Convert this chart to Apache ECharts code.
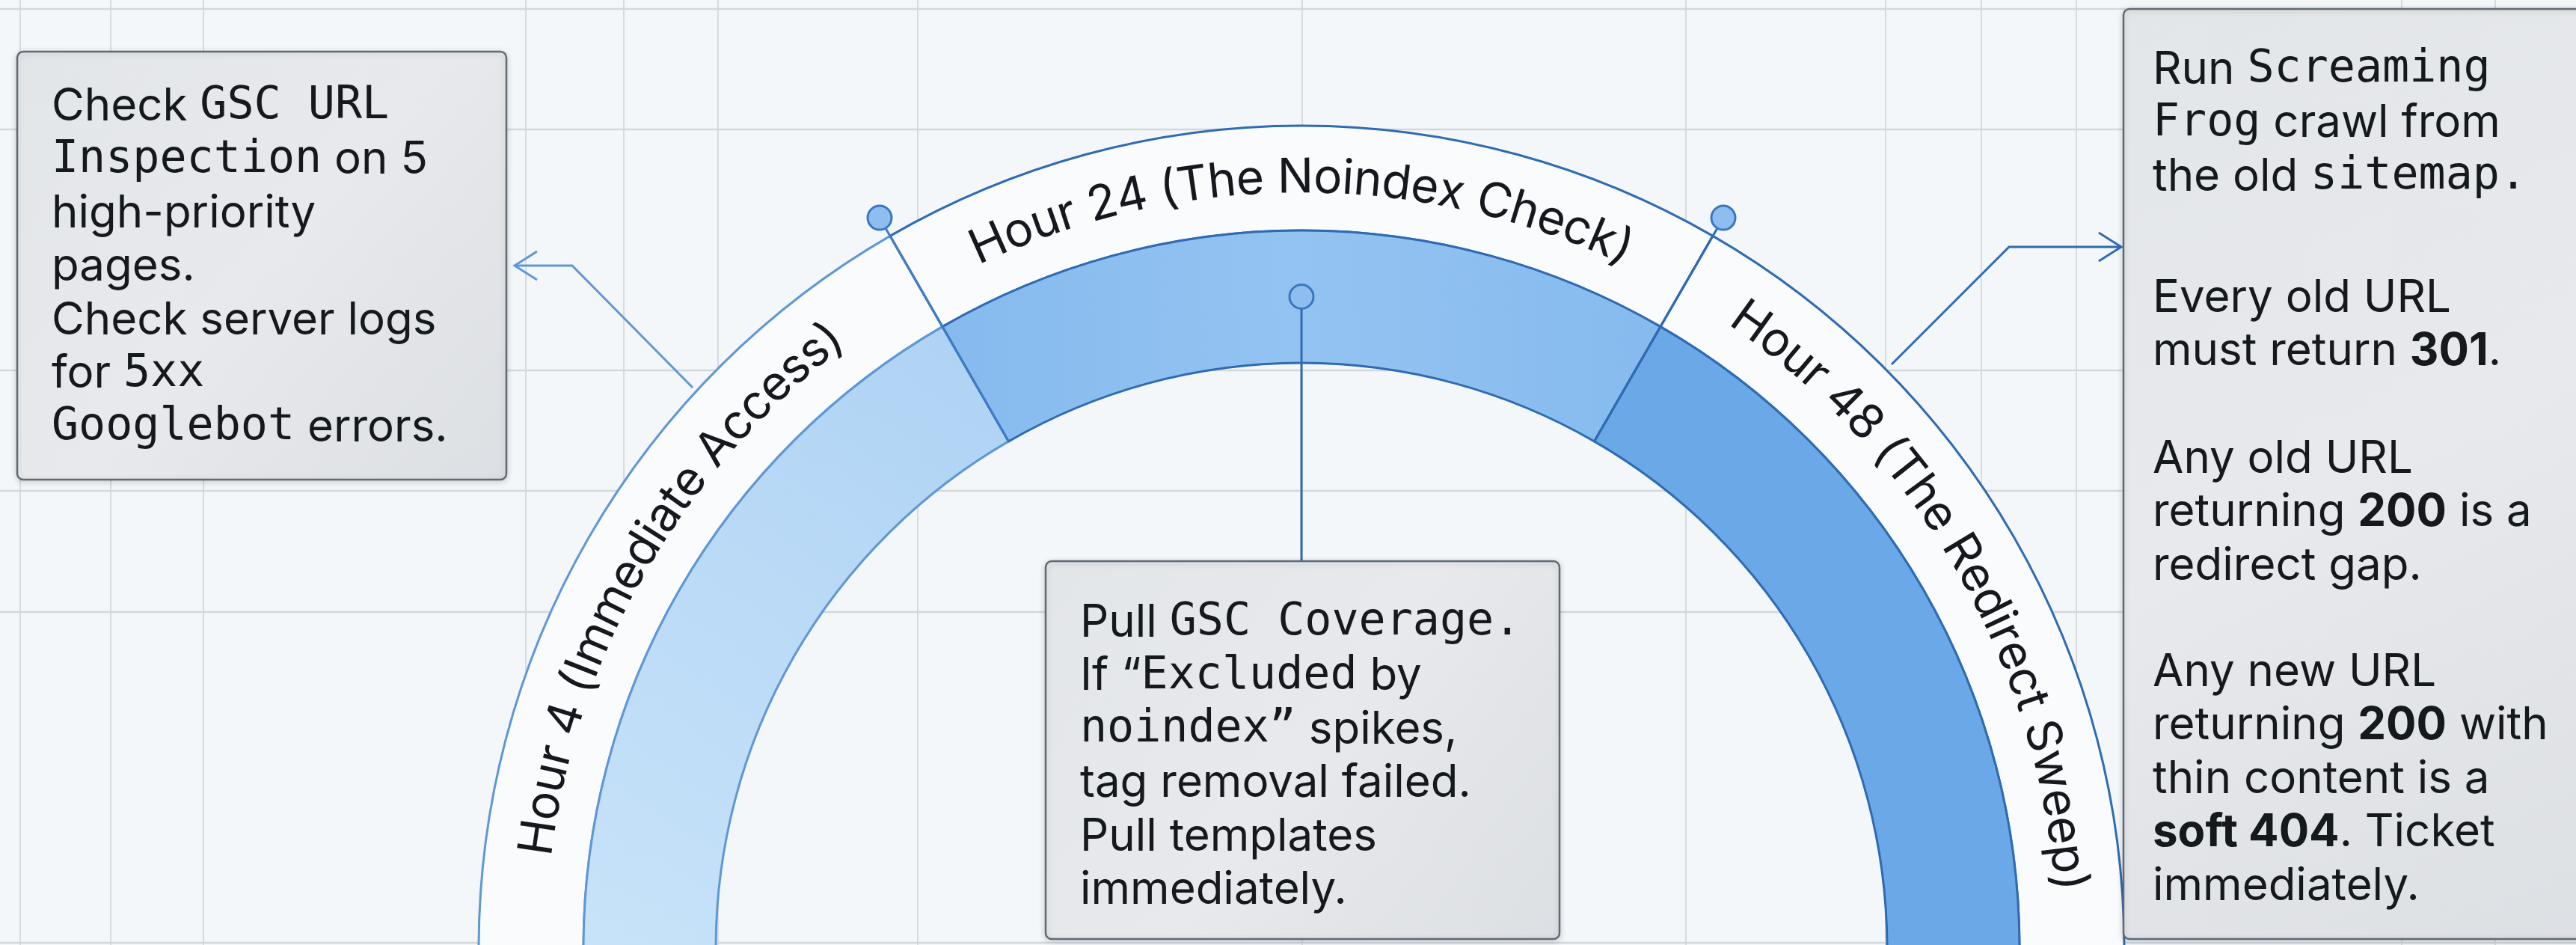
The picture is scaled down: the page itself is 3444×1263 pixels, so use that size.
<!DOCTYPE html>
<html>
<head>
<meta charset="utf-8">
<script src="https://cdn.jsdelivr.net/npm/echarts@6/dist/echarts.min.js"></script>
<style>
html,body{margin:0;padding:0;background:#f4f7f9;}
#chart{width:3444px;height:1263px;}
</style>
</head>
<body>
<div id="chart"></div>
<script>
// phases of the 48h window, each takes an equal third of the arc
var phaseNames = ['Hour 4 (Immediate Access)', 'Hour 24 (The Noindex Check)', 'Hour 48 (The Redirect Sweep)'];
var phaseShare = [1, 1, 1];

// callout notes, one rich-text line per entry ({s|} sans, {m|} mono, {b|} bold)
var noteHour4 = [
    '{s|Check }{m|GSC URL}',
    '{m|Inspection}{s| on 5}',
    '{s|high-priority}',
    '{s|pages.}',
    '{s|Check server logs}',
    '{s|for }{m|5xx}',
    '{m|Googlebot}{s| errors.}'
];
var noteHour24 = [
    '{s|Pull }{m|GSC Coverage.}',
    '{s|If \u201C}{m|Excluded}{s| by}',
    '{m|noindex\u201D}{s| spikes,}',
    '{s|tag removal failed.}',
    '{s|Pull templates}',
    '{s|immediately.}'
];
var noteHour48 = [
    ['{s|Run }{m|Screaming}', '{m|Frog}{s| crawl from}', '{s|the old }{m|sitemap.}'],
    ['{s|Every old URL}', '{s|must return }{b|301}{s|.}'],
    ['{s|Any old URL}', '{s|returning }{b|200}{s| is a}', '{s|redirect gap.}'],
    ['{s|Any new URL}', '{s|returning }{b|200}{s| with}', '{s|thin content is a}', '{b|soft 404}{s|. Ticket}', '{s|immediately.}']
];

// layout ------------------------------------------------------------------
var cx = 1740, cy = 1268;
var rBandIn = 783, rBandOut = 960, rRingOut = 1100;
var gridX = [27, 148, 272, 703, 834, 960, 1227, 1741, 2254, 2521, 2649, 2776, 3211, 3336];
var gridY = [12, 173, 495, 656, 818, 1260];

var sansFont = 'Inter';
var monoFont = 'DejaVu Sans Mono';
var inkColor = '#15191e';
var lineBlue = '#2f6bb2';
var lightLineBlue = '#5f97d6';

var bandColors = [
    {type: 'linear', x: 0, y: 1, x2: 1, y2: 0, colorStops: [{offset: 0, color: '#c8e3f9'}, {offset: 1, color: '#aed2f4'}]},
    {type: 'linear', x: 0, y: 0, x2: 1, y2: 0, colorStops: [{offset: 0, color: '#86baee'}, {offset: 0.5, color: '#93c3f1'}, {offset: 1, color: '#86baee'}]},
    '#6aa8e8'
];
var bandBorders = [lightLineBlue, lineBlue, lineBlue];

function polar(deg, r) { // deg measured clockwise from 12 o'clock
    var a = deg * Math.PI / 180;
    return [cx + r * Math.sin(a), cy - r * Math.cos(a)];
}

// angle boundaries from the shares
var total = phaseShare.reduce(function (a, b) { return a + b; }, 0);
var bounds = [];
var mids = [];
var cum = 0;
for (var i = 0; i < phaseShare.length; i++) {
    mids.push(-90 + 180 * (cum + phaseShare[i] / 2) / total);
    cum += phaseShare[i];
    if (i < phaseShare.length - 1) bounds.push(-90 + 180 * cum / total);
}

var measureCtx = document.createElement('canvas').getContext('2d');

function arcText(str, midDeg, r, size) {
    var font = '400 ' + size + 'px ' + sansFont;
    measureCtx.font = font;
    var chars = str.split('');
    var widths = chars.map(function (ch) { return measureCtx.measureText(ch).width; });
    var sum = widths.reduce(function (a, b) { return a + b; }, 0);
    var acc = -sum / 2;
    var out = [];
    chars.forEach(function (ch, k) {
        var s = acc + widths[k] / 2;
        acc += widths[k];
        var deg = midDeg + (s / r) * 180 / Math.PI;
        var p = polar(deg, r);
        out.push({
            type: 'text', z: 20, silent: true,
            x: p[0], y: p[1],
            rotation: -deg * Math.PI / 180,
            style: {text: ch, font: font, fill: inkColor, align: 'center', verticalAlign: 'middle'}
        });
    });
    return out;
}

var richStyles = {
    s: {fontFamily: sansFont, fontSize: 60, fill: inkColor, color: inkColor, lineHeight: 71.5},
    m: {fontFamily: monoFont, fontSize: 60, fill: inkColor, color: inkColor, lineHeight: 71.5},
    b: {fontFamily: sansFont, fontSize: 60, fontWeight: 'bold', fill: inkColor, color: inkColor, lineHeight: 71.5}
};

function noteText(lines, x, y) {
    return {
        type: 'text', z: 30, silent: true, x: x, y: y,
        style: {text: lines.join('\n'), rich: richStyles, font: '60px ' + sansFont, fill: inkColor,
            align: 'left', verticalAlign: 'top', lineHeight: 71.5}
    };
}

function noteBox(x, y, w, h) {
    return {
        type: 'rect', z: 25, silent: true,
        shape: {x: x, y: y, width: w, height: h, r: 8},
        style: {
            fill: {type: 'linear', x: 0, y: 0, x2: 1, y2: 1, colorStops: [{offset: 0, color: '#e3e6e9'}, {offset: 0.5, color: '#e7e9ec'}, {offset: 1, color: '#dcdfe3'}]},
            stroke: '#5f6a76', lineWidth: 2.5,
            shadowBlur: 8, shadowColor: 'rgba(0,0,0,0.16)', shadowOffsetY: 2
        }
    };
}

function marker(p) {
    return {
        type: 'circle', z: 22, silent: true,
        shape: {cx: p[0], cy: p[1], r: 16},
        style: {fill: '#8ebef0', stroke: '#3a76bf', lineWidth: 3}
    };
}

var graphics = [];

// background grid
gridX.forEach(function (x) {
    graphics.push({type: 'line', z: 0, silent: true, shape: {x1: x, y1: 0, x2: x, y2: 1263}, style: {stroke: '#d6dbe0', lineWidth: 2}});
});
gridY.forEach(function (y) {
    graphics.push({type: 'line', z: 0, silent: true, shape: {x1: 0, y1: y, x2: 3444, y2: y}, style: {stroke: '#d3d8dd', lineWidth: 2.5}});
});

// dividers + markers at phase boundaries
bounds.forEach(function (deg, k) {
    var a = polar(deg, rBandIn), b = polar(deg, 1112);
    graphics.push({type: 'line', z: 15, silent: true, shape: {x1: a[0], y1: a[1], x2: b[0], y2: b[1]},
        style: {stroke: k === 0 ? '#3f7cc4' : lineBlue, lineWidth: 3}});
    graphics.push(marker(polar(deg, 1128)));
});

// centre connector down to the Hour 24 note
var cm = polar(mids[1], (rBandIn + rBandOut) / 2);
graphics.push({type: 'line', z: 15, silent: true, shape: {x1: cm[0], y1: cm[1], x2: cm[0], y2: 752}, style: {stroke: lineBlue, lineWidth: 3}});
graphics.push(marker(cm));

// left callout arrow
graphics.push({type: 'polyline', z: 15, silent: true, shape: {points: [[926, 518], [765, 355], [690, 355]]}, style: {stroke: lightLineBlue, lineWidth: 3, fill: null}});
graphics.push({type: 'polyline', z: 15, silent: true, shape: {points: [[718, 336], [688, 355], [718, 374]]}, style: {stroke: lightLineBlue, lineWidth: 3, fill: null}});
// right callout arrow
graphics.push({type: 'polyline', z: 15, silent: true, shape: {points: [[2529, 487], [2686, 330], [2834, 330]]}, style: {stroke: lineBlue, lineWidth: 3, fill: null}});
graphics.push({type: 'polyline', z: 15, silent: true, shape: {points: [[2806, 311], [2836, 330], [2806, 349]]}, style: {stroke: lineBlue, lineWidth: 3, fill: null}});

// curved phase labels
phaseNames.forEach(function (name, k) {
    graphics = graphics.concat(arcText(name, mids[k], 1030, 64));
});

// notes
graphics.push(noteBox(23, 69, 654, 572));
graphics.push(noteText(noteHour4, 69, 107));
graphics.push(noteBox(1398, 750, 687, 505));
graphics.push(noteText(noteHour24, 1444, 797));
graphics.push(noteBox(2839, 12, 640, 1243));
var paraTops = [58, 363, 578, 863];
noteHour48.forEach(function (para, k) {
    graphics.push(noteText(para, 2878, paraTops[k]));
});

var ringData = phaseNames.map(function (n, k) {
    return {name: n, value: phaseShare[k], itemStyle: {color: '#f9fbfd', borderColor: bandBorders[k], borderWidth: 3}};
});
var bandData = phaseNames.map(function (n, k) {
    return {name: n, value: phaseShare[k], itemStyle: {color: bandColors[k], borderColor: bandBorders[k], borderWidth: 3}};
});

var option = {
    backgroundColor: '#f4f7f9',
    animation: false,
    series: [{
        type: 'pie',
        silent: true,
        center: [cx, cy],
        radius: [rBandOut, rRingOut],
        startAngle: 180,
        endAngle: 0,
        clockwise: true,
        label: {show: false},
        labelLine: {show: false},
        emphasis: {disabled: true},
        z: 2,
        data: ringData
    }, {
        type: 'pie',
        silent: true,
        center: [cx, cy],
        radius: [rBandIn, rBandOut],
        startAngle: 180,
        endAngle: 0,
        clockwise: true,
        label: {show: false},
        labelLine: {show: false},
        emphasis: {disabled: true},
        z: 3,
        data: bandData
    }],
    graphic: {elements: graphics}
};

var chart = echarts.init(document.getElementById('chart'));
chart.setOption(option);
window.addEventListener('resize', function () {
    chart.resize();
});
</script>
</body>
</html>
